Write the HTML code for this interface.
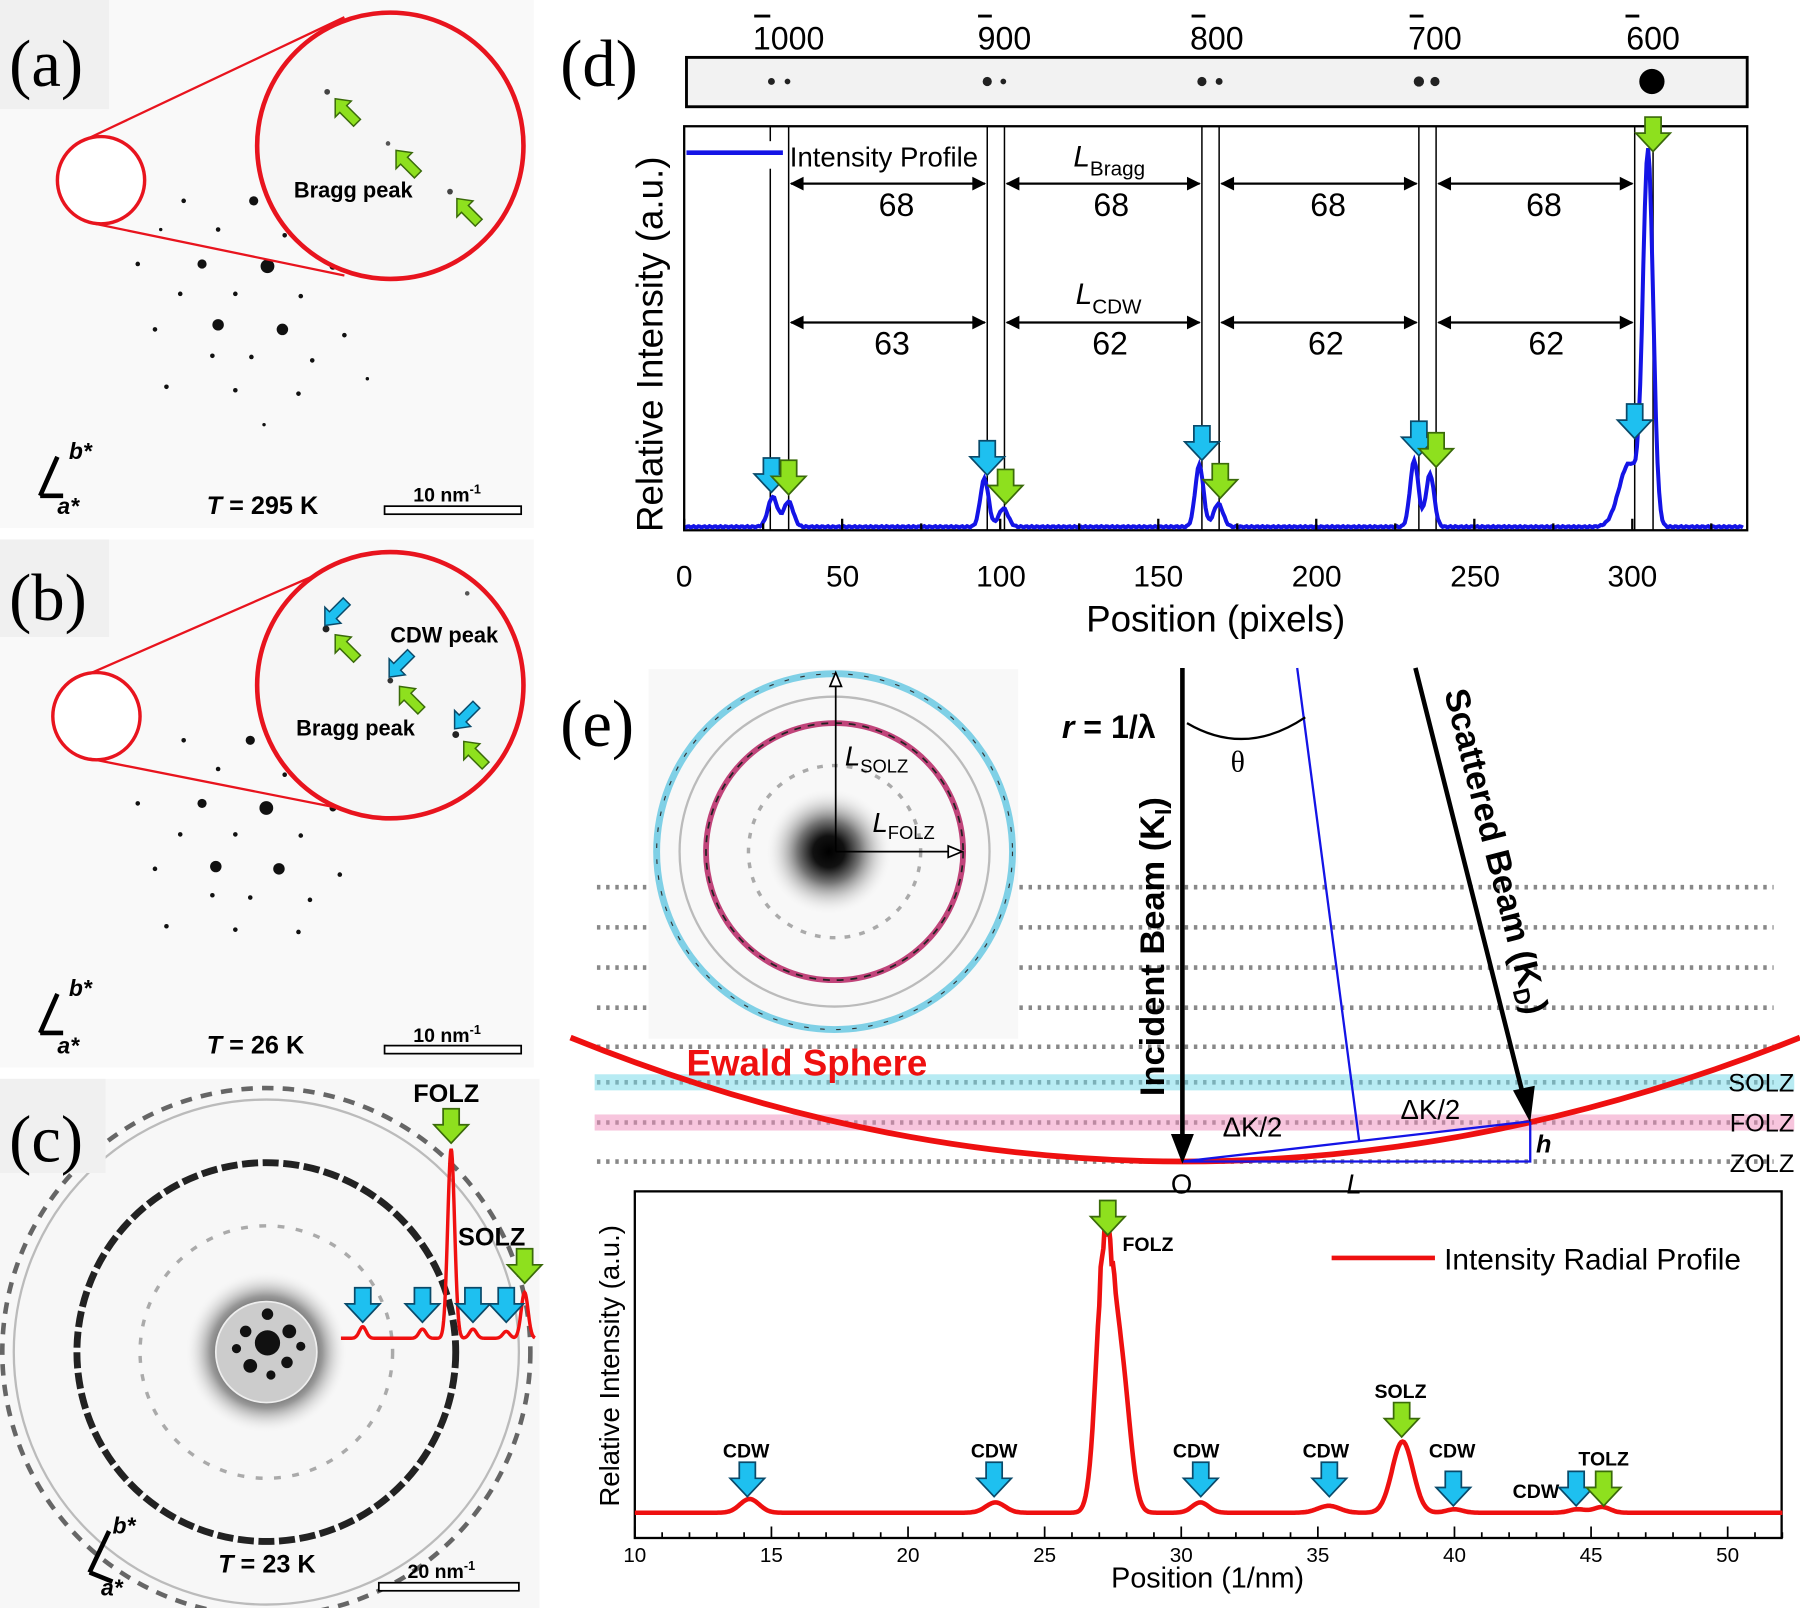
<!DOCTYPE html>
<html><head><meta charset="utf-8"><style>
html,body{margin:0;padding:0;background:#fff;}
svg{display:block;font-family:"Liberation Sans",Arial,sans-serif;}
</style></head><body>
<svg id="s" width="1800" height="1608" viewBox="0 0 1568 1401" preserveAspectRatio="none" xmlns="http://www.w3.org/2000/svg">
<defs>
<radialGradient id="blob" cx="50%" cy="50%" r="50%"><stop offset="0" stop-color="#000"/><stop offset="0.35" stop-color="#222"/><stop offset="0.7" stop-color="#999"/><stop offset="1" stop-color="#eee" stop-opacity="0"/></radialGradient>
<radialGradient id="blob2" cx="50%" cy="50%" r="50%"><stop offset="0" stop-color="#000"/><stop offset="0.25" stop-color="#111"/><stop offset="0.5" stop-color="#777"/><stop offset="1" stop-color="#f2f2f2" stop-opacity="0"/></radialGradient>
<g id="ca"><path d="M-7,-28 h14 v14 h8 l-15,16 l-15,-16 h8z" fill="#1ec0f0" stroke="#0a4a6a" stroke-width="1.5"/></g>
<g id="ga"><path d="M-7,-28 h14 v14 h8 l-15,16 l-15,-16 h8z" fill="#8ee01e" stroke="#3a6a0a" stroke-width="1.5"/></g>
<g id="gdiag"><path d="M0,0 l14,2 l-4,4 l12,12 l-6,6 l-12,-12 l-4,4z" fill="#8ee01e" stroke="#3a6a0a" stroke-width="1.3"/></g>
<g id="cdiag"><path d="M0,0 l14,-2 l-4,-4 l12,-12 l-6,-6 l-12,12 l-4,-4z" fill="#1ec0f0" stroke="#0a4a6a" stroke-width="1.3"/></g>
</defs>
<rect width="1568" height="1401" fill="#fff"/>

<!-- panel a -->
<rect x="0" y="0" width="465" height="460" fill="#f9f9f9"/>
<rect x="0" y="0" width="95" height="95" fill="#f0f0f0"/>
<text x="8" y="75" font-family="Liberation Serif,serif" font-size="58">(a)</text>
<g fill="#111">
<circle cx="233" cy="232" r="6"/><circle cx="176" cy="230" r="4"/><circle cx="190" cy="283" r="5"/><circle cx="246" cy="287" r="5"/><circle cx="221" cy="175" r="4"/>
<circle cx="160" cy="175" r="2"/><circle cx="205" cy="256" r="2"/><circle cx="157" cy="256" r="2"/><circle cx="219" cy="311" r="2"/><circle cx="272" cy="314" r="2"/><circle cx="262" cy="258" r="2"/><circle cx="300" cy="292" r="2"/><circle cx="135" cy="287" r="2"/><circle cx="145" cy="337" r="2"/><circle cx="205" cy="340" r="2"/><circle cx="260" cy="343" r="2"/><circle cx="290" cy="232" r="3"/><circle cx="120" cy="230" r="2"/><circle cx="140" cy="200" r="1.5"/><circle cx="190" cy="200" r="2"/><circle cx="248" cy="205" r="2"/><circle cx="185" cy="310" r="2"/><circle cx="230" cy="370" r="1.5"/><circle cx="320" cy="330" r="1.5"/>
</g>
<circle cx="88" cy="157" r="38" fill="#fff" stroke="#e8141e" stroke-width="3"/>
<path d="M78,120 L300,15 M78,194 L300,240" stroke="#e8141e" stroke-width="2"/>
<circle cx="340" cy="127" r="116" fill="#f6f6f6" stroke="#e8141e" stroke-width="4"/>
<circle cx="285" cy="80" r="2.5" fill="#444"/><circle cx="338" cy="125" r="2" fill="#555"/><circle cx="392" cy="167" r="2.5" fill="#444"/>
<use href="#gdiag" x="292" y="86"/><use href="#gdiag" x="345" y="131"/><use href="#gdiag" x="398" y="173"/>
<text x="256" y="172" font-size="19" font-weight="bold">Bragg peak</text>
<g stroke="#000" stroke-width="4" fill="none"><path d="M35,432 L50,398 M35,432 L55,432"/></g>
<text x="60" y="400" font-size="20" font-weight="bold" font-style="italic">b*</text>
<text x="50" y="448" font-size="20" font-weight="bold" font-style="italic">a*</text>
<text x="180" y="448" font-size="22" font-weight="bold"><tspan font-style="italic">T</tspan> = 295 K</text>
<text x="360" y="437" font-size="17" font-weight="bold">10 nm<tspan font-size="11" dy="-7">-1</tspan></text>
<rect x="335" y="441" width="119" height="7" fill="#fff" stroke="#000" stroke-width="1.5"/>

<!-- panel b -->
<rect x="0" y="470" width="465" height="460" fill="#f9f9f9"/>
<rect x="0" y="470" width="95" height="85" fill="#f0f0f0"/>
<text x="8" y="540" font-family="Liberation Serif,serif" font-size="58">(b)</text>
<g fill="#111">
<circle cx="232" cy="704" r="6"/><circle cx="176" cy="700" r="4"/><circle cx="188" cy="755" r="5"/><circle cx="243" cy="757" r="5"/><circle cx="218" cy="645" r="4"/>
<circle cx="160" cy="645" r="2"/><circle cx="205" cy="727" r="2"/><circle cx="157" cy="727" r="2"/><circle cx="218" cy="782" r="2"/><circle cx="270" cy="784" r="2"/><circle cx="262" cy="728" r="2"/><circle cx="296" cy="762" r="2"/><circle cx="135" cy="757" r="2"/><circle cx="145" cy="807" r="2"/><circle cx="205" cy="810" r="2"/><circle cx="260" cy="812" r="2"/><circle cx="290" cy="704" r="3"/><circle cx="120" cy="700" r="2"/><circle cx="190" cy="670" r="2"/><circle cx="248" cy="675" r="2"/><circle cx="185" cy="780" r="2"/>
</g>
<circle cx="84" cy="624" r="38" fill="#fff" stroke="#e8141e" stroke-width="3"/>
<path d="M78,587 L300,490 M78,661 L300,705" stroke="#e8141e" stroke-width="2"/>
<circle cx="340" cy="597" r="116" fill="#f6f6f6" stroke="#e8141e" stroke-width="4"/>
<circle cx="284" cy="548" r="3" fill="#222"/><circle cx="340" cy="593" r="2.5" fill="#333"/><circle cx="397" cy="640" r="3" fill="#222"/><circle cx="407" cy="517" r="2" fill="#555"/>
<use href="#cdiag" x="283" y="545"/><use href="#cdiag" x="339" y="590"/><use href="#cdiag" x="396" y="635"/>
<use href="#gdiag" x="292" y="553"/><use href="#gdiag" x="348" y="598"/><use href="#gdiag" x="404" y="646"/>
<text x="340" y="560" font-size="19" font-weight="bold">CDW peak</text>
<text x="258" y="641" font-size="19" font-weight="bold">Bragg peak</text>
<g stroke="#000" stroke-width="4" fill="none"><path d="M35,900 L50,866 M35,900 L55,900"/></g>
<text x="60" y="868" font-size="20" font-weight="bold" font-style="italic">b*</text>
<text x="50" y="918" font-size="20" font-weight="bold" font-style="italic">a*</text>
<text x="180" y="918" font-size="22" font-weight="bold"><tspan font-style="italic">T</tspan> = 26 K</text>
<text x="360" y="908" font-size="17" font-weight="bold">10 nm<tspan font-size="11" dy="-7">-1</tspan></text>
<rect x="335" y="911" width="119" height="7" fill="#fff" stroke="#000" stroke-width="1.5"/>

<!-- panel c -->
<rect x="0" y="940" width="470" height="461" fill="#f7f7f7"/>
<circle cx="232" cy="1178" r="230" fill="none" stroke="#666" stroke-width="4" stroke-dasharray="10 8"/>
<circle cx="232" cy="1178" r="220" fill="none" stroke="#bbb" stroke-width="2"/>
<circle cx="232" cy="1178" r="165" fill="none" stroke="#222" stroke-width="6" stroke-dasharray="14 4"/>
<circle cx="232" cy="1178" r="110" fill="none" stroke="#aaa" stroke-width="3" stroke-dasharray="6 10"/>
<circle cx="232" cy="1178" r="70" fill="url(#blob)"/>
<circle cx="232" cy="1178" r="44" fill="#ccc" stroke="#eee" stroke-width="1.5"/>
<g fill="#111"><circle cx="233" cy="1170" r="11"/><circle cx="214" cy="1160" r="5"/><circle cx="252" cy="1160" r="6"/><circle cx="218" cy="1190" r="6"/><circle cx="250" cy="1187" r="5"/><circle cx="233" cy="1145" r="5"/><circle cx="236" cy="1198" r="4"/><circle cx="206" cy="1175" r="4"/><circle cx="262" cy="1173" r="4"/></g>
<rect x="0" y="940" width="92" height="82" fill="#f0f0f0"/>
<text x="8" y="1012" font-family="Liberation Serif,serif" font-size="58">(c)</text>
<path id="cprof" d="" fill="none" stroke="#f01010" stroke-width="3"/>
<text x="360" y="960" font-size="22" font-weight="bold">FOLZ</text>
<text x="399" y="1085" font-size="22" font-weight="bold">SOLZ</text>
<use href="#ga" x="393" y="994"/><use href="#ga" x="457" y="1116"/>
<use href="#ca" x="316" y="1150"/><use href="#ca" x="368" y="1150"/><use href="#ca" x="412" y="1150"/><use href="#ca" x="441" y="1150"/>
<g stroke="#000" stroke-width="4" fill="none"><path d="M78,1370 L95,1334 M78,1370 L98,1378"/></g>
<text x="98" y="1336" font-size="20" font-weight="bold" font-style="italic">b*</text>
<text x="88" y="1390" font-size="20" font-weight="bold" font-style="italic">a*</text>
<text x="190" y="1370" font-size="22" font-weight="bold"><tspan font-style="italic">T</tspan> = 23 K</text>
<text x="355" y="1375" font-size="17" font-weight="bold">20 nm<tspan font-size="11" dy="-7">-1</tspan></text>
<rect x="330" y="1379" width="122" height="7" fill="#fff" stroke="#000" stroke-width="1.5"/>

<!-- panel d -->
<text x="488" y="75" font-family="Liberation Serif,serif" font-size="58">(d)</text>
<g font-size="28" text-anchor="middle">
<text x="687" y="43">1000</text><text x="875" y="43">900</text><text x="1060" y="43">800</text><text x="1250" y="43">700</text><text x="1440" y="43">600</text>
</g>
<g stroke="#000" stroke-width="2.5"><path d="M657,14h14M852,14h12M1038,14h12M1228,14h12M1416,14h12"/></g>
<rect x="598" y="50" width="924" height="43" fill="#f2f2f2" stroke="#000" stroke-width="2.5"/>
<g fill="#222"><circle cx="672" cy="71" r="3"/><circle cx="686" cy="71" r="2.5"/><circle cx="860" cy="71" r="4"/><circle cx="874" cy="71" r="2.5"/><circle cx="1047" cy="71" r="4"/><circle cx="1062" cy="71" r="3"/><circle cx="1236" cy="71" r="4.5"/><circle cx="1250" cy="71" r="4"/><circle cx="1439" cy="71" r="11" fill="#000"/></g>
<rect x="596" y="110" width="926" height="352" fill="none" stroke="#000" stroke-width="2"/>
<g stroke="#000" stroke-width="1.3"><path d="M671,110V462M687,110V462M860,110V462M875,110V462M1047,110V462M1062,110V462M1236,110V462M1251,110V462M1424,110V462M1440,110V462"/></g>
<path id="dprof" d="" fill="none" stroke="#1414e6" stroke-width="3.5"/>
<g stroke="#000" stroke-width="2" fill="none">
<path d="M689,160H858M877,160H1045M1064,160H1234M1253,160H1422M689,281H858M877,281H1045M1064,281H1234M1253,281H1422"/>
</g>
<g fill="#000">
<path d="M688,160l12,-6v12zM859,160l-12,-6v12zM876,160l12,-6v12zM1046,160l-12,-6v12zM1063,160l12,-6v12zM1235,160l-12,-6v12zM1252,160l12,-6v12zM1423,160l-12,-6v12z"/>
<path d="M688,281l12,-6v12zM859,281l-12,-6v12zM876,281l12,-6v12zM1046,281l-12,-6v12zM1063,281l12,-6v12zM1235,281l-12,-6v12zM1252,281l12,-6v12zM1423,281l-12,-6v12z"/>
</g>
<g font-size="28" text-anchor="middle"><text x="781" y="188">68</text><text x="968" y="188">68</text><text x="1157" y="188">68</text><text x="1345" y="188">68</text>
<text x="777" y="309">63</text><text x="967" y="309">62</text><text x="1155" y="309">62</text><text x="1347" y="309">62</text></g>
<text x="935" y="145" font-size="26" font-style="italic">L<tspan font-size="18" font-style="normal" dy="8">Bragg</tspan></text>
<text x="937" y="265" font-size="26" font-style="italic">L<tspan font-size="18" font-style="normal" dy="8">CDW</tspan></text>
<rect x="600" y="123" width="80" height="24" fill="#fff"/>
<path d="M598,133H682" stroke="#1414e6" stroke-width="4"/>
<text x="688" y="145" font-size="24">Intensity Profile</text>
<use href="#ca" x="672" y="427"/><use href="#ga" x="687" y="429"/>
<use href="#ca" x="860" y="412"/><use href="#ga" x="876" y="437"/>
<use href="#ca" x="1047" y="399"/><use href="#ga" x="1063" y="432"/>
<use href="#ca" x="1236" y="395"/><use href="#ga" x="1251" y="405"/>
<use href="#ca" x="1424" y="380"/><use href="#ga" x="1440" y="130"/>
<g stroke="#000" stroke-width="2"><path id="dticks" d=""/></g>
<g font-size="26" text-anchor="middle"><text x="596" y="511">0</text><text x="734" y="511">50</text><text x="872" y="511">100</text><text x="1009" y="511">150</text><text x="1147" y="511">200</text><text x="1285" y="511">250</text><text x="1422" y="511">300</text></g>
<text x="1059" y="550" font-size="32" text-anchor="middle">Position (pixels)</text>
<text transform="translate(577,300) rotate(-90)" font-size="32" text-anchor="middle">Relative Intensity (a.u.)</text>

<!-- panel e diagram -->
<text x="488" y="650" font-family="Liberation Serif,serif" font-size="58">(e)</text>
<g stroke="#888" stroke-width="4" stroke-dasharray="3 5" fill="none">
<path d="M520,773H1545M520,808H1545M520,843H1545M520,878H1545M520,912H1545M520,943H1545M520,978H1545M520,1012H1545"/>
</g>
<rect x="518" y="936" width="1045" height="14" fill="#6fd8e8" opacity="0.5"/>
<rect x="518" y="971" width="1045" height="14" fill="#f08cbc" opacity="0.5"/>
<rect x="565" y="583" width="322" height="322" fill="#f8f8f8"/>
<circle cx="727" cy="742" r="135" fill="none" stroke="#bbb" stroke-width="2"/>
<circle cx="727" cy="742" r="75" fill="none" stroke="#aaa" stroke-width="3" stroke-dasharray="5 8"/>
<circle cx="722" cy="742" r="55" fill="url(#blob2)"/>
<circle cx="727" cy="742" r="155" fill="none" stroke="#7fd0e6" stroke-width="6"/>
<circle cx="727" cy="742" r="155" fill="none" stroke="#333" stroke-width="1" stroke-dasharray="4 10"/>
<circle cx="727" cy="742" r="112" fill="none" stroke="#c0447a" stroke-width="5"/>
<circle cx="727" cy="742" r="112" fill="none" stroke="#222" stroke-width="1.5" stroke-dasharray="6 6"/>
<g stroke="#000" stroke-width="1.5" fill="#fff"><path d="M728,742V596" fill="none"/><path d="M728,742H830" fill="none"/><path d="M723,598l5,-12l5,12z"/><path d="M826,737l12,5l-12,5z"/></g>
<text x="736" y="667" font-size="24" font-style="italic">L<tspan font-size="16" font-style="normal" dy="6">SOLZ</tspan></text>
<text x="760" y="725" font-size="24" font-style="italic">L<tspan font-size="16" font-style="normal" dy="6">FOLZ</tspan></text>
<path d="M497,904 Q1030,1120 1568,904" fill="none" stroke="#ee1010" stroke-width="5"/>
<text x="598" y="937" font-size="32" font-weight="bold" fill="#ee1010">Ewald Sphere</text>
<g stroke="#1414e6" stroke-width="2" fill="none"><path d="M1130,582L1184,994M1030,1012L1333,977M1030,1012H1333V977"/></g>
<g stroke="#000" stroke-width="4"><path d="M1030,582V990M1233,582L1327,955"/></g>
<path d="M1020,988h20l-10,26z" fill="#000"/><path d="M1318,950l19,-4l-4,32z" fill="#000"/>
<path d="M1034,630 Q1085,660 1137,625" fill="none" stroke="#000" stroke-width="2"/>
<text x="1072" y="672" font-family="Liberation Serif,serif" font-size="26">θ</text>
<text x="925" y="643" font-size="28" font-weight="bold"><tspan font-style="italic">r</tspan> = 1/λ</text>
<text transform="translate(1014,955) rotate(-90)" font-size="30" font-weight="bold">Incident Beam (K<tspan font-size="20" dy="6">I</tspan><tspan dy="-6">)</tspan></text>
<text transform="translate(1258,603) rotate(75.8)" font-size="30" font-weight="bold">Scattered Beam (K<tspan font-size="20" dy="6">D</tspan><tspan dy="-6">)</tspan></text>
<text x="1065" y="990" font-size="24">ΔK/2</text><text x="1220" y="975" font-size="24">ΔK/2</text>
<text x="1020" y="1040" font-size="24">O</text><text x="1173" y="1040" font-size="24" font-style="italic">L</text><text x="1338" y="1004" font-size="22" font-weight="bold" font-style="italic">h</text>
<g font-size="22" text-anchor="end"><text x="1563" y="951">SOLZ</text><text x="1563" y="986">FOLZ</text><text x="1563" y="1021">ZOLZ</text></g>

<!-- panel e chart -->
<rect x="553" y="1038" width="999" height="302" fill="none" stroke="#000" stroke-width="2"/>
<path id="eprof" d="" fill="none" stroke="#ee1010" stroke-width="4"/>
<path d="M1160,1096H1250" stroke="#ee1010" stroke-width="4"/>
<text x="1258" y="1106" font-size="26">Intensity Radial Profile</text>
<g stroke="#000" stroke-width="1.5"><path id="eticks" d=""/></g>
<g font-size="18" text-anchor="middle"><text x="553" y="1361">10</text><text x="672" y="1361">15</text><text x="791" y="1361">20</text><text x="910" y="1361">25</text><text x="1029" y="1361">30</text><text x="1148" y="1361">35</text><text x="1267" y="1361">40</text><text x="1386" y="1361">45</text><text x="1505" y="1361">50</text></g>
<text x="1052" y="1383" font-size="25" text-anchor="middle">Position (1/nm)</text>
<text transform="translate(539,1190) rotate(-90)" font-size="24" text-anchor="middle">Relative Intensity (a.u.)</text>
<g font-size="17" font-weight="bold" text-anchor="middle">
<text x="650" y="1270">CDW</text><text x="866" y="1270">CDW</text><text x="1042" y="1270">CDW</text><text x="1155" y="1270">CDW</text><text x="1265" y="1270">CDW</text><text x="1338" y="1305">CDW</text>
<text x="1220" y="1218">SOLZ</text><text x="1397" y="1277">TOLZ</text><text x="1000" y="1090">FOLZ</text>
</g>
<use href="#ca" x="651" y="1302"/><use href="#ca" x="866" y="1302"/><use href="#ca" x="1046" y="1302"/><use href="#ca" x="1158" y="1302"/><use href="#ca" x="1266" y="1310"/><use href="#ca" x="1373" y="1310"/>
<use href="#ga" x="1221" y="1250"/><use href="#ga" x="1397" y="1310"/><use href="#ga" x="965" y="1074"/>
</svg>
<script>
function g(x,c,s){return Math.exp(-(x-c)*(x-c)/(2*s*s));}
(function(){var p=[[28,26,1.5],[33,22,1.5],[95,42,1.3],[101,16,1.5],[163,54,1.3],[169,20,1.5],[231,58,1.3],[236,46,1.3],[299,55,3.2],[305,320,1.6]];
var d="";for(var x=0;x<=335;x+=0.5){var y=459;for(var i=0;i<p.length;i++)y-=p[i][1]*g(x,p[i][0],p[i][2]);y+=Math.sin(x*3.7)*0.6;d+=(x?"L":"M")+(596+x*2.753).toFixed(1)+","+y.toFixed(1);}
document.getElementById("dprof").setAttribute("d",d);
var t="";for(var v=0;v<=335;v+=25){var X=596+v*2.753;t+="M"+X.toFixed(1)+",462v"+(v%50==0?-10:-6);}
document.getElementById("dticks").setAttribute("d",t);})();
(function(){var p=[[14.2,12,0.35],[23.2,9,0.35],[27.2,225,0.3],[27.8,120,0.32],[30.7,9,0.3],[35.4,6,0.4],[38.1,62,0.38],[40,3,0.3],[44.5,3,0.3],[45.4,5,0.3]];
var d="";for(var x=10;x<=52;x+=0.05){var y=1318;for(var i=0;i<p.length;i++)y-=p[i][1]*g(x,p[i][0],p[i][2]);if(x>27&&x<27.6)y-=8*Math.sin(x*40);d+=(x==10?"M":"L")+(553+(x-10)*23.8).toFixed(1)+","+y.toFixed(1);}
document.getElementById("eprof").setAttribute("d",d);
var t="";for(var v=10;v<=52;v+=1){var X=553+(v-10)*23.8;t+="M"+X.toFixed(1)+",1340v"+(v%5==0?-10:-5);}
document.getElementById("eticks").setAttribute("d",t);})();
(function(){var p=[[316,10,3],[368,8,3],[393,165,3],[412,8,3],[441,6,3],[457,40,3]];
var d="";for(var x=297;x<=466;x+=0.5){var y=1166;for(var i=0;i<p.length;i++)y-=p[i][1]*g(x,p[i][0],p[i][2]);d+=(x==297?"M":"L")+x+","+y.toFixed(1);}
document.getElementById("cprof").setAttribute("d",d);})();
</script>
</body></html>
